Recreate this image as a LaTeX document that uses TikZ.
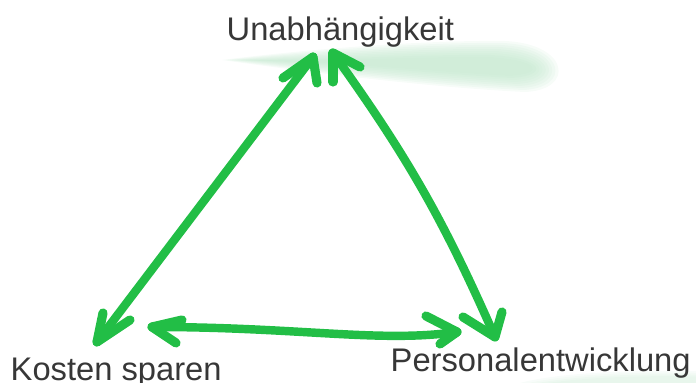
\documentclass[tikz,border=0pt]{standalone}
\usepackage{fontspec}
\setmainfont{Liberation Sans}
\definecolor{pen}{RGB}{34,190,70}
\definecolor{ink}{RGB}{55,55,55}
\definecolor{marker}{RGB}{190,230,202}
\begin{document}
\begin{tikzpicture}[x=0.01cm,y=-0.01cm,
  txt/.style={text=ink,font=\fontsize{9.3}{11}\selectfont,inner sep=0pt},
  penline/.style={draw=pen,line width=2.4pt,line cap=round,line join=round},
  barb/.style={draw=pen,line width=2.6pt,line cap=round}]
\useasboundingbox (0,0) rectangle (696,383);

% highlighter smear under the top label: stacked thin layers give soft edges
\foreach \d in {0,2,...,16}{
  \fill[marker,opacity=0.13]
    ({222+2*\d},60) .. controls (300,{50+0.8*\d}) and (420,{40+\d}) .. ({505-\d},{41+\d})
    .. controls ({570-1.8*\d},{44+\d}) and ({575-1.8*\d},{90-\d}) .. ({525-\d},{92-\d})
    .. controls (440,{88-\d}) and (320,{74-0.8*\d}) .. cycle;
}

% faint smear under the bottom right label
\foreach \d in {0,3,...,9}{
  \fill[marker,opacity=0.1] ({520+3*\d},383) .. controls ({560+3*\d},{372+0.6*\d}) and (640,{370+0.6*\d}) .. (696,{371+0.6*\d})
    -- (696,383) -- cycle;
}

% labels
\node[txt,anchor=base west] (top) at (226,41) {Unabhängigkeit};
\node[txt,anchor=base west] (left) at (10,381) {Kosten sparen};
\node[txt,anchor=base west] (right) at (390,372) {Personalentwicklung};

% arrow tips
\coordinate (kUp) at (313,57);
\coordinate (kDown) at (97,342);
\coordinate (pUp) at (333,53);
\coordinate (pDown) at (495,337);
\coordinate (hL) at (152,327);
\coordinate (hR) at (457,332);

% shafts
\draw[penline] (kDown) -- (kUp);
\draw[penline] (pUp) to[bend left=6] (pDown);
\draw[penline] (hL) .. controls (300,327) and (380,343) .. (hR);

% hand drawn barbs
\draw[barb] (kDown) -- ++(6,-29);
\draw[barb] (kDown) -- ++(33,-22);
\draw[barb] (kUp) -- ++(-30,21);
\draw[barb] (kUp) -- ++(4,26);
\draw[barb] (pUp) -- ++(27,14);
\draw[barb] (pUp) -- ++(0,29);
\draw[barb] (pDown) -- ++(-32,-20);
\draw[barb] (pDown) -- ++(7,-25);
\draw[barb] (hL) -- ++(30,-7);
\draw[barb] (hL) -- ++(24,16);
\draw[barb] (hR) -- ++(-31,-16);
\draw[barb] (hR) -- ++(-17,12);
\end{tikzpicture}
\end{document}
